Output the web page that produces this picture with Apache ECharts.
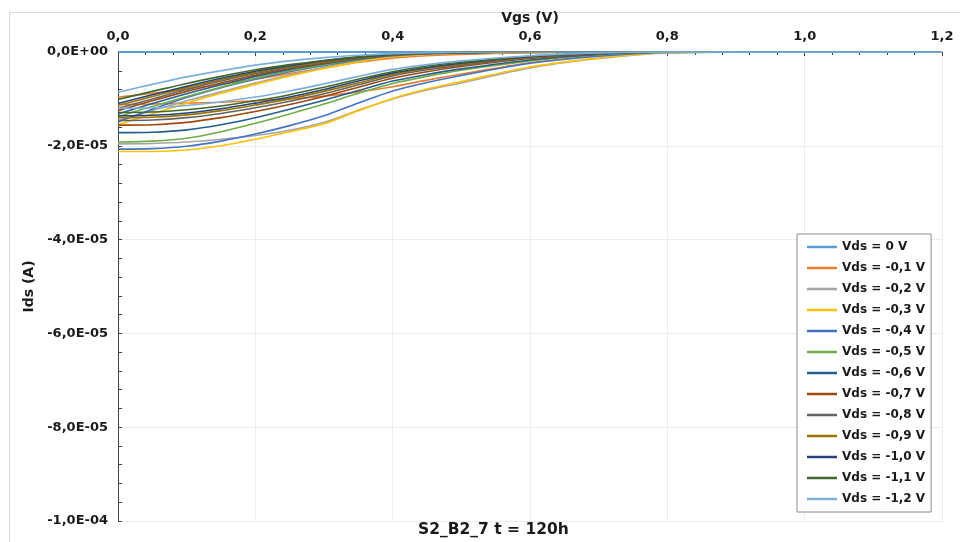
<!DOCTYPE html>
<html>
<head>
<meta charset="utf-8">
<script src="https://cdn.jsdelivr.net/npm/echarts@6/dist/echarts.min.js"></script>
<style>
  html, body { margin: 0; padding: 0; background: #ffffff; }
  #chart { width: 960px; height: 542px; }
</style>
</head>
<body>
<div id="chart"></div>
<script>
// Vgs sweep points (V)
const vgs = [0, 0.05, 0.1, 0.15, 0.2, 0.25, 0.3, 0.35, 0.4, 0.45, 0.5, 0.6, 0.7, 0.8, 1.0, 1.2];

// Legend labels, one per drain bias
const vdsLabels = ['Vds = 0 V', 'Vds = -0,1 V', 'Vds = -0,2 V', 'Vds = -0,3 V', 'Vds = -0,4 V',
  'Vds = -0,5 V', 'Vds = -0,6 V', 'Vds = -0,7 V', 'Vds = -0,8 V', 'Vds = -0,9 V',
  'Vds = -1,0 V', 'Vds = -1,1 V', 'Vds = -1,2 V'];

// Ids in µA, sweep branch with the larger current (slow turn-off)
const idsSlow = [
  [0, 0, 0, 0, 0, 0, 0, 0, 0, 0, 0, 0, 0, 0, 0, 0],
  [-11.2, -11.1, -10.9, -10.7, -10.4, -10.0, -9.4, -8.5, -7.4, -6.0, -4.7, -2.3, -0.8, -0.1, 0, 0],
  [-19.6, -19.5, -19.2, -18.6, -17.8, -16.7, -15.0, -12.4, -10.0, -8.1, -6.6, -3.4, -1.4, -0.2, 0, 0],
  [-21.2, -21.2, -20.9, -20.0, -18.6, -17.0, -15.3, -12.5, -9.9, -7.9, -6.3, -3.2, -1.3, -0.15, 0, 0],
  [-20.7, -20.6, -20.1, -19.0, -17.5, -15.7, -13.6, -10.9, -8.3, -6.5, -5.0, -2.4, -0.9, -0.1, 0, 0],
  [-19.2, -19.0, -18.4, -17.0, -15.2, -13.2, -11.1, -8.8, -6.7, -5.2, -3.9, -1.9, -0.6, -0.05, 0, 0],
  [-17.2, -17.1, -16.6, -15.5, -14.0, -12.2, -10.3, -8.2, -6.2, -4.8, -3.6, -1.7, -0.5, 0, 0, 0],
  [-15.6, -15.5, -15.0, -14.0, -12.7, -11.2, -9.5, -7.5, -5.6, -4.2, -3.1, -1.4, -0.4, 0, 0, 0],
  [-14.6, -14.5, -14.0, -13.1, -11.9, -10.5, -8.9, -7.0, -5.1, -3.8, -2.8, -1.2, -0.35, 0, 0, 0],
  [-14.0, -13.9, -13.4, -12.5, -11.3, -10.0, -8.4, -6.6, -4.8, -3.5, -2.6, -1.1, -0.3, 0, 0, 0],
  [-13.6, -13.5, -13.0, -12.1, -10.9, -9.6, -8.0, -6.2, -4.5, -3.3, -2.4, -1.0, -0.3, 0, 0, 0],
  [-12.9, -12.8, -12.3, -11.5, -10.4, -9.1, -7.5, -5.8, -4.2, -3.0, -2.2, -0.9, -0.25, 0, 0, 0],
  [-12.0, -11.9, -11.4, -10.6, -9.6, -8.3, -6.8, -5.2, -3.7, -2.7, -1.9, -0.8, -0.2, 0, 0, 0]
];

// Ids in µA, sweep branch with the smaller current (fast turn-off)
const idsFast = [
  [0, 0, 0, 0, 0, 0, 0, 0, 0, 0, 0, 0, 0, 0, 0, 0],
  [-9.6, -8.8, -7.9, -6.9, -5.8, -4.6, -3.4, -2.2, -1.3, -0.8, -0.5, -0.2, -0.05, 0, 0, 0],
  [-14.6, -12.5, -10.4, -8.5, -6.6, -4.9, -3.3, -1.9, -0.9, -0.45, -0.2, -0.05, 0, 0, 0, 0],
  [-15.5, -13.2, -10.9, -8.8, -6.9, -5.1, -3.5, -2.1, -1.0, -0.5, -0.25, -0.05, 0, 0, 0, 0],
  [-14.9, -12.2, -9.7, -7.6, -5.8, -4.2, -2.9, -1.7, -0.8, -0.4, -0.2, 0, 0, 0, 0, 0],
  [-13.8, -11.6, -9.5, -7.5, -5.6, -4.0, -2.7, -1.6, -0.7, -0.35, -0.15, 0, 0, 0, 0, 0],
  [-13.2, -11.0, -8.9, -7.0, -5.2, -3.7, -2.5, -1.5, -0.7, -0.3, -0.15, 0, 0, 0, 0, 0],
  [-12.5, -10.4, -8.4, -6.6, -4.9, -3.5, -2.4, -1.4, -0.65, -0.3, -0.1, 0, 0, 0, 0, 0],
  [-12.0, -10.0, -8.0, -6.2, -4.6, -3.3, -2.2, -1.3, -0.6, -0.3, -0.1, 0, 0, 0, 0, 0],
  [-11.4, -9.5, -7.6, -5.9, -4.4, -3.1, -2.1, -1.2, -0.55, -0.25, -0.1, 0, 0, 0, 0, 0],
  [-11.0, -9.1, -7.3, -5.6, -4.1, -2.9, -1.9, -1.1, -0.5, -0.25, -0.1, 0, 0, 0, 0, 0],
  [-10.1, -8.4, -6.7, -5.2, -3.8, -2.7, -1.8, -1.0, -0.45, -0.2, -0.1, 0, 0, 0, 0, 0],
  [-8.6, -6.9, -5.3, -4.0, -2.8, -1.9, -1.2, -0.7, -0.35, -0.15, -0.05, 0, 0, 0, 0, 0]
];

const lineColors = ['#5B9BD5', '#ED7D31', '#A5A5A5', '#FFC000', '#4472C4', '#70AD47',
  '#255E91', '#9E480E', '#636363', '#997300', '#264478', '#43682B', '#7CAFDD'];

const plotTitle = 'S2_B2_7 t = 120h';
const xName = 'Vgs (V)';
const yName = 'Ids (A)';

const UA = 1e-6;

function toPairs(vals) {
  return vgs.map((v, i) => [v, vals[i] * UA]);
}

// "-2,0E-05" style scientific label
function sciLabel(v) {
  if (Math.abs(v) < 1e-12) return '0,0E+00';
  const sign = v < 0 ? '-' : '';
  const a = Math.abs(v);
  let e = Math.floor(Math.log10(a) + 1e-9);
  let m = a / Math.pow(10, e);
  if (m >= 9.95) { m /= 10; e += 1; }
  const es = (e < 0 ? '-' : '+') + String(Math.abs(e)).padStart(2, '0');
  return sign + m.toFixed(1).replace('.', ',') + 'E' + es;
}

const font = 'DejaVu Sans';
const series = [];
vdsLabels.forEach((name, i) => {
  const common = {
    name: name,
    type: 'line',
    showSymbol: false,
    symbol: 'none',
    smooth: 0.3,
    clip: true,
    lineStyle: { width: i === 0 ? 2 : 1.6, color: lineColors[i] },
    itemStyle: { color: lineColors[i] },
    emphasis: { disabled: true },
    z: 2 + i
  };
  series.push(Object.assign({}, common, { data: toPairs(idsSlow[i]) }));
  if (i > 0) series.push(Object.assign({}, common, { data: toPairs(idsFast[i]) }));
});

const chart = echarts.init(document.getElementById('chart'), null, { renderer: 'canvas' });
chart.setOption({
  animation: false,
  backgroundColor: '#ffffff',
  textStyle: { fontFamily: font },
  grid: { left: 118, right: 18, top: 52, bottom: 21, containLabel: false },
  graphic: [
    {
      type: 'rect', left: 7, top: 10, silent: true, z: -10,
      shape: { width: 960, height: 530 },
      style: { fill: 'none', stroke: '#d9d9d9', lineWidth: 1 }
    },
    {
      type: 'text', left: 418, top: 522, silent: true,
      style: { text: plotTitle, font: 'bold 15.5px "DejaVu Sans"', fill: '#1a1a1a' }
    }
  ],
  legend: {
    orient: 'vertical',
    left: 797, top: 234,
    width: 137,
    padding: [6, 6, 6, 10],
    icon: 'rect',
    itemWidth: 30, itemHeight: 2.5, itemGap: 7,
    backgroundColor: '#ffffff',
    borderColor: '#8c8c8c', borderWidth: 1,
    textStyle: { fontFamily: font, fontWeight: 'bold', fontSize: 12, lineHeight: 14, color: '#1a1a1a' },
    data: vdsLabels
  },
  xAxis: {
    type: 'value', position: 'top',
    min: 0, max: 1.2, interval: 0.2,
    name: xName, nameLocation: 'middle', nameGap: 25,
    nameTextStyle: { fontFamily: font, fontWeight: 'bold', fontSize: 14, color: '#1a1a1a' },
    axisLine: { show: true, onZero: false, lineStyle: { color: '#404040', width: 1 } },
    axisTick: { show: true, inside: true, length: 4, lineStyle: { color: '#404040' } },
    minorTick: { show: true, splitNumber: 5, length: 3, lineStyle: { color: '#404040' } },
    axisLabel: {
      fontFamily: font, fontWeight: 'bold', fontSize: 13, color: '#1a1a1a', margin: 9,
      formatter: v => v.toFixed(1).replace('.', ',')
    },
    splitLine: { show: true, lineStyle: { color: '#ececec', width: 1 } }
  },
  yAxis: {
    type: 'value',
    min: -1e-4, max: 0, interval: 2e-5,
    name: yName, nameLocation: 'middle', nameGap: 78, nameRotate: 90,
    nameTextStyle: { fontFamily: font, fontWeight: 'bold', fontSize: 14, color: '#1a1a1a' },
    axisLine: { show: true, onZero: false, lineStyle: { color: '#404040', width: 1 } },
    axisTick: { show: true, inside: true, length: 4, lineStyle: { color: '#404040' } },
    minorTick: { show: true, splitNumber: 5, length: 4, lineStyle: { color: '#404040' } },
    axisLabel: {
      fontFamily: font, fontWeight: 'bold', fontSize: 13, color: '#1a1a1a', margin: 10,
      formatter: sciLabel
    },
    splitLine: { show: true, lineStyle: { color: '#ececec', width: 1 } }
  },
  series: series
});
</script>
</body>
</html>
